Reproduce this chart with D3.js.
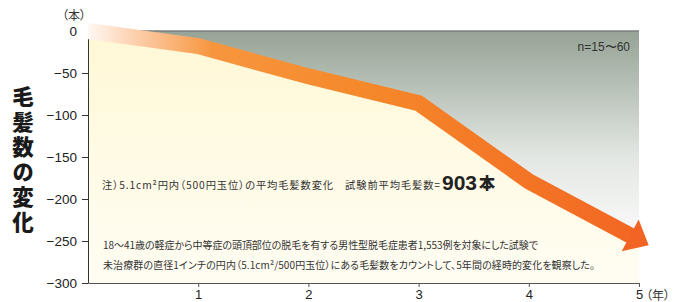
<!DOCTYPE html>
<html><head><meta charset="utf-8">
<script src="https://cdn.jsdelivr.net/npm/d3@7"></script>
<style>
html,body{margin:0;padding:0;background:#fff;}
svg{display:block;}
.cjk{font-family:"Noto Sans CJK JP","Noto Sans CJK SC",sans-serif;font-feature-settings:"palt" 1;}
.lat{font-family:"Liberation Sans",Arial,sans-serif;}
</style></head>
<body>
<svg id="c" width="673" height="302"></svg>
<script>
const years = [0, 1, 2, 3, 4, 5];
const hairChange = [0, -18, -54, -86, -179, -249];
const yTicks = [0, -50, -100, -150, -200, -250, -300];
const xTicks = [1, 2, 3, 4, 5];
const yTitle = "毛髪数の変化";
const yUnit = "（本）";
const xUnit = "（年）";
const nLabel = "n=15〜60";
const note1 = "注）5.1cm²円内（500円玉位）の平均毛髪数変化　試験前平均毛髪数=";
const note1Big = "903";
const note1Unit = "本";
const note2 = ["18〜41歳の軽症から中等症の頭頂部位の脱毛を有する男性型脱毛症患者1,553例を対象にした試験で",
               "未治療群の直径1インチの円内（5.1cm²/500円玉位）にある毛髪数をカウントして、5年間の経時的変化を観察した。"];

const svg = d3.select("#c");
const x = d3.scaleLinear().domain([0, 5]).range([88, 639]);
const y = d3.scaleLinear().domain([0, -300]).range([31, 283]);
const pts = years.map((t, i) => [x(t), y(hairChange[i])]);

const defs = svg.append("defs");
const gg = defs.append("linearGradient").attr("id", "gray").attr("gradientUnits", "userSpaceOnUse")
  .attr("x1", 0).attr("x2", 0).attr("y1", y(0)).attr("y2", y(-250));
[[0, "#96a396"], [0.3, "#bcc5bc"], [0.6, "#e3e7e3"], [1, "#fbfbfb"]].forEach(s =>
  gg.append("stop").attr("offset", s[0]).attr("stop-color", s[1]));
const yg = defs.append("linearGradient").attr("id", "yel").attr("gradientUnits", "userSpaceOnUse")
  .attr("x1", 0).attr("x2", 0).attr("y1", y(0)).attr("y2", y(-300));
[[0, "#fff8d6"], [1, "#fffdf3"]].forEach(s =>
  yg.append("stop").attr("offset", s[0]).attr("stop-color", s[1]));
const og = defs.append("linearGradient").attr("id", "org").attr("gradientUnits", "userSpaceOnUse")
  .attr("x1", x(0)).attr("x2", 650).attr("y1", 0).attr("y2", 0);
[[0, "#fff8f3"], [0.1, "#fcc8a0"], [0.22, "#f7963f"], [0.5, "#f5882a"], [1, "#f26522"]].forEach(s =>
  og.append("stop").attr("offset", s[0]).attr("stop-color", s[1]));

// gray area above the line
const topArea = d3.area().x(d => d[0]).y0(y(0)).y1(d => d[1]);
svg.append("path").attr("d", topArea(pts)).attr("fill", "url(#gray)");
// yellow area below the line
const botArea = d3.area().x(d => d[0]).y0(y(-300)).y1(d => d[1]);
svg.append("path").attr("d", botArea(pts)).attr("fill", "url(#yel)");
// top border
svg.append("line").attr("x1", x(0)).attr("x2", x(5)).attr("y1", y(0)).attr("y2", y(0))
  .attr("stroke", "#7b7f7b").attr("stroke-width", 1.5);

// axes
const ya = svg.append("g").attr("transform", `translate(${x(0)},0)`)
  .call(d3.axisLeft(y).tickValues(yTicks).tickSizeInner(6).tickSizeOuter(0).tickPadding(5)
    .tickFormat(d => d === 0 ? "0" : "\u2212" + Math.abs(d)));
ya.select(".domain").attr("stroke", "#333");
ya.selectAll(".tick line").attr("stroke", "#333").filter(d => d === 0).remove();
ya.selectAll(".tick text").attr("class", "lat").attr("font-size", 13.5).attr("fill", "#222");

const xa = svg.append("g").attr("transform", `translate(0,${y(-300)})`)
  .call(d3.axisBottom(x).tickValues(xTicks).tickSizeInner(4).tickSizeOuter(0).tickPadding(3)
    .tickFormat(d3.format("d")));
xa.select(".domain").attr("stroke", "#555").attr("stroke-width", 1.2);
xa.selectAll(".tick line").attr("stroke", "#555");
xa.selectAll(".tick text").attr("class", "lat").attr("font-size", 13).attr("fill", "#222");

// band line
svg.append("path").attr("d", d3.line()(pts)).attr("fill", "none")
  .attr("stroke", "url(#org)").attr("stroke-width", 16).attr("stroke-linejoin", "miter");
// arrow head
const a = pts[pts.length - 2], b = pts[pts.length - 1];
const dx = b[0] - a[0], dy = b[1] - a[1], L = Math.hypot(dx, dy);
const ux = dx / L, uy = dy / L, px = -uy, py = ux;
const bc = [b[0] - 10 * ux, b[1] - 10 * uy];
const tip = [b[0] + 11 * ux, b[1] + 11 * uy];
svg.append("path").attr("d", `M${tip}L${bc[0] + 18 * px},${bc[1] + 18 * py}L${bc[0] - 18 * px},${bc[1] - 18 * py}Z`)
  .attr("fill", "#f16423");

// texts
svg.append("text").attr("class", "cjk").attr("x", 62).attr("y", 20)
  .attr("font-size", 12).attr("fill", "#333").text(yUnit);
svg.append("text").attr("class", "cjk").attr("x", 646).attr("y", 300)
  .attr("font-size", 12).attr("fill", "#333").text(xUnit);
svg.append("text").attr("class", "cjk").attr("x", 23).attr("y", 86)
  .attr("writing-mode", "vertical-rl").attr("letter-spacing", 3.5)
  .attr("font-size", 21.5).attr("font-weight", 900).attr("fill", "#1a1a1a").text(yTitle);
svg.append("text").attr("class", "lat").attr("x", 630).attr("y", 51).attr("text-anchor", "end")
  .attr("font-size", 12).attr("fill", "#333").text(nLabel);

svg.append("text").attr("class", "cjk").attr("x", 102).attr("y", 189).attr("fill", "#333").attr("font-size", 10.3)
  .attr("textLength", 338).attr("lengthAdjust", "spacing").text(note1);
svg.append("text").attr("class", "lat").attr("x", 442).attr("y", 190).attr("font-size", 21).attr("font-weight", "bold")
  .attr("fill", "#222").text(note1Big);
svg.append("text").attr("class", "cjk").attr("x", 479).attr("y", 189).attr("font-size", 16).attr("font-weight", 900)
  .attr("fill", "#222").text(note1Unit);

const n2len = [435, 492];
note2.forEach((s, i) => svg.append("text").attr("class", "cjk").attr("x", 103).attr("y", 249 + i * 19.5)
  .attr("font-size", 10).attr("fill", "#333").attr("textLength", n2len[i]).attr("lengthAdjust", "spacing").text(s));
</script>
</body></html>
